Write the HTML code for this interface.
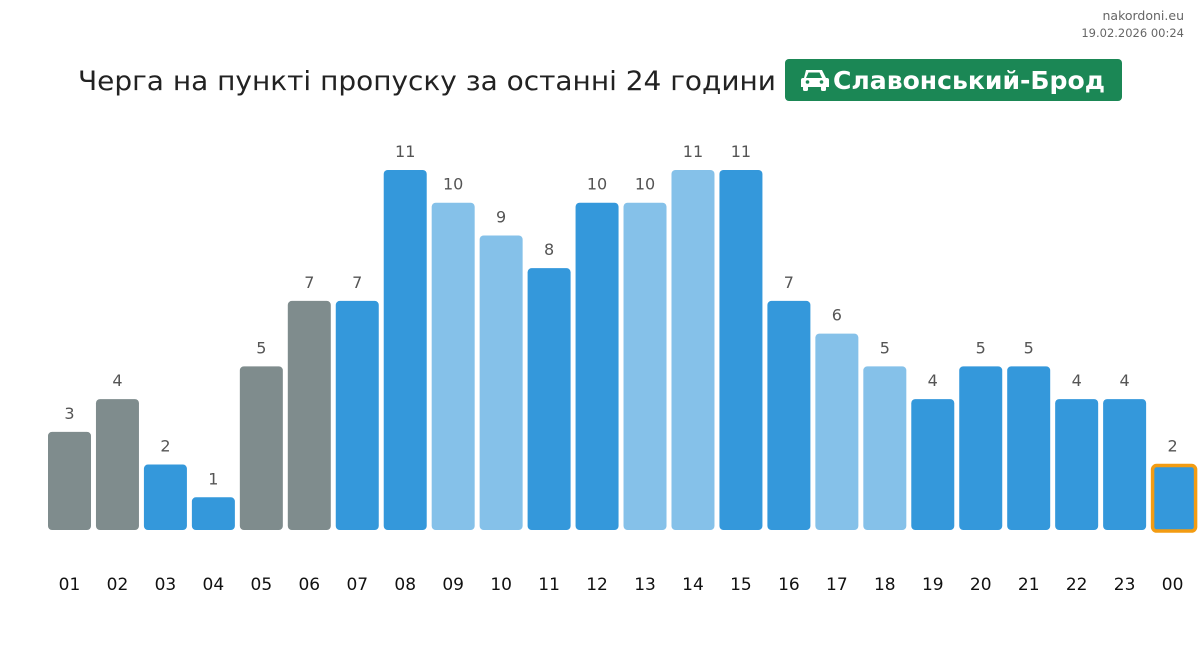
<!DOCTYPE html>
<html><head><meta charset="utf-8"><style>
html,body{margin:0;padding:0;background:#fff;}
body{width:1200px;height:651px;overflow:hidden;font-family:"DejaVu Sans","Liberation Sans",sans-serif;}
</style></head><body>
<svg id="chart" width="1200" height="651" xmlns="http://www.w3.org/2000/svg" font-family="DejaVu Sans, Liberation Sans, sans-serif">
<text x="1184" y="20" text-anchor="end" font-size="12.5" fill="#666">nakordoni.eu</text>
<text x="1184" y="37" text-anchor="end" font-size="11.5" fill="#666">19.02.2026 00:24</text>
<text x="78" y="90" font-size="27" fill="#222" textLength="698" lengthAdjust="spacingAndGlyphs">Черга на пункті пропуску за останні 24 години</text>
<g>
<rect x="785" y="59" width="337" height="42" rx="4" fill="#1b8755"/>
<g fill="#fff">
<path d="M806 70 h16 l4 8 h1 a2 2 0 0 1 2 2 v7 h-28 v-7 a2 2 0 0 1 2 -2 h1 z M808.5 72.5 l-2.5 5.5 h16 l-2.5 -5.5 z" fill-rule="evenodd"/>
<rect x="803" y="86" width="5" height="5" rx="1.5"/><rect x="821" y="86" width="5" height="5" rx="1.5"/>
<circle cx="807.5" cy="82" r="1.8" fill="#1b8755"/><circle cx="821.5" cy="82" r="1.8" fill="#1b8755"/>
</g>
<text x="833" y="89" font-size="25" font-weight="bold" fill="#fff" textLength="272" lengthAdjust="spacingAndGlyphs">Славонський-Брод</text>
</g>
<g id="bars"></g>
</svg>
<script>
const categories=["01","02","03","04","05","06","07","08","09","10","11","12","13","14","15","16","17","18","19","20","21","22","23","00"];
const values=[3,4,2,1,5,7,7,11,10,9,8,10,10,11,11,7,6,5,4,5,5,4,4,2];
const colorKinds=["past","past","live","live","past","past","live","live","light","light","live","live","light","light","live","live","light","light","live","live","live","live","live","current"];
const palette={past:"#7f8c8d",live:"#3498db",light:"#85c1e9",current:"#3498db"};
const NS="http://www.w3.org/2000/svg";
const g=document.getElementById("bars");
const baseY=530,maxV=11,maxH=360;
function xPos(i){return 48+i*47.96;}
function yScale(v){return baseY-v/maxV*maxH;}
const bw=43;
categories.forEach((c,i)=>{
  const v=values[i],x=xPos(i),y=yScale(v);
  const r=document.createElementNS(NS,"rect");
  
  
  r.setAttribute("x",x);r.setAttribute("y",y);r.setAttribute("width",bw);r.setAttribute("height",baseY-y);
  r.setAttribute("rx",4);r.setAttribute("fill",palette[colorKinds[i]]);
  if(colorKinds[i]==="current"){r.setAttribute("stroke","#f39c12");r.setAttribute("stroke-width",3.5);r.setAttribute("x",x+1.5);r.setAttribute("width",bw);r.setAttribute("height",baseY-y);r.setAttribute("y",y+1);}
  g.appendChild(r);
  const t=document.createElementNS(NS,"text");
  
  
  t.setAttribute("x",x+bw/2);t.setAttribute("y",y-13);t.setAttribute("text-anchor","middle");
  t.setAttribute("font-size","16");t.setAttribute("fill","#555");t.textContent=v;
  g.appendChild(t);
  const l=document.createElementNS(NS,"text");
  
  
  l.setAttribute("x",x+bw/2);l.setAttribute("y",590);l.setAttribute("text-anchor","middle");
  l.setAttribute("font-size","17");l.setAttribute("fill","#111");l.textContent=c;
  g.appendChild(l);
});
</script>
</body></html>
